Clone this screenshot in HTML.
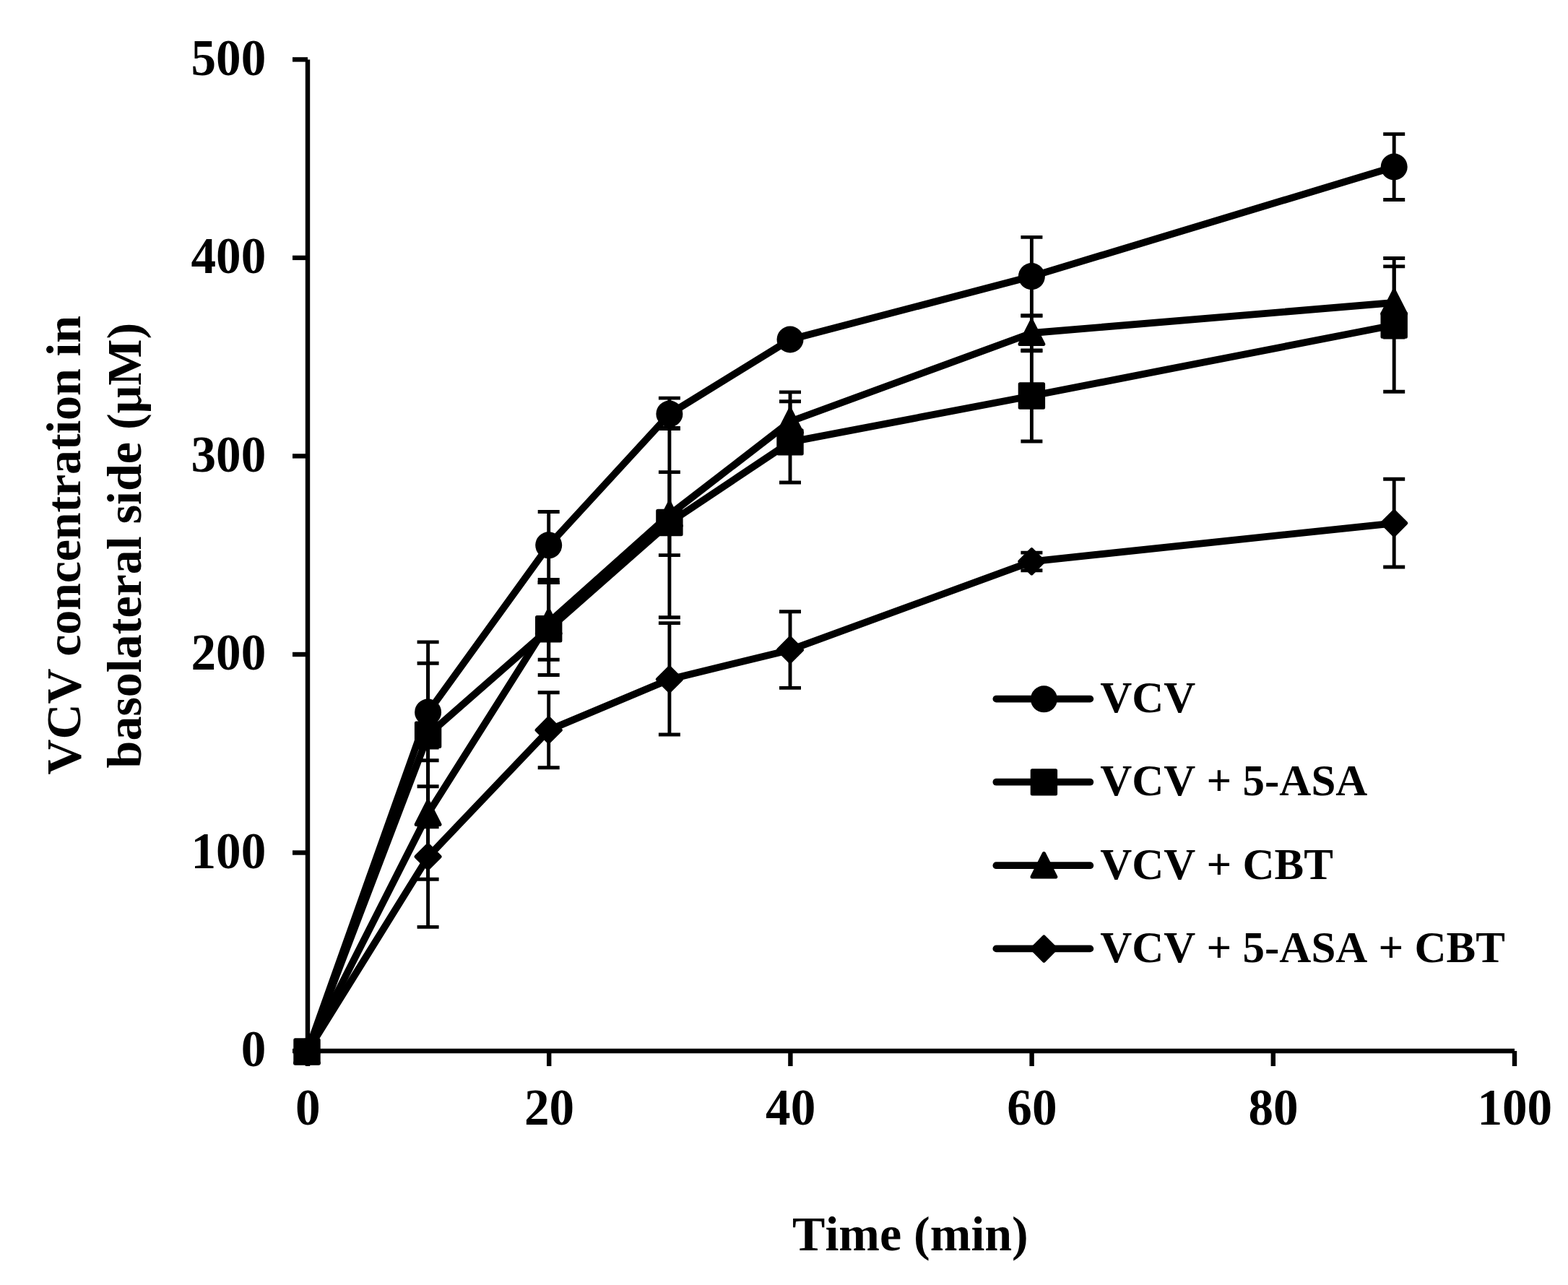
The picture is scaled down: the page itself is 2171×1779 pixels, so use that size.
<!DOCTYPE html>
<html lang="en">
<head>
<meta charset="utf-8">
<title>VCV concentration in basolateral side</title>
<style>
html,body{margin:0;padding:0;background:#fff;}
body{width:2171px;height:1779px;overflow:hidden;}
svg{display:block;}
text{font-family:"Liberation Serif",serif;font-weight:bold;fill:#000;font-kerning:none;font-variant-ligatures:none;}
.tick{font-size:69.2px;}
.title{font-size:68px;}
.leg{font-size:61px;}
.axis{stroke:#000;stroke-width:6.4;fill:none;}
.line{stroke:#000;stroke-width:9.8;fill:none;stroke-linejoin:round;stroke-linecap:round;}
.eb{stroke:#000;stroke-width:4.9;fill:none;}
.m{stroke:#000;stroke-width:3.0;stroke-linejoin:round;fill:#000;}
.m2{stroke:#000;stroke-width:5;stroke-linejoin:round;fill:#000;}
</style>
</head>
<body>
<svg width="2171" height="1779" viewBox="0 0 2171 1779">
<rect width="2171" height="1779" fill="#fff"/>
<g class="axis">
<path d="M426.0 82.4V1458.2"/>
<path d="M422.8 1455.0H2097.0"/>
<path d="M405.0 1455.0H426.0"/>
<path d="M405.0 1180.5H426.0"/>
<path d="M405.0 906.0H426.0"/>
<path d="M405.0 631.4H426.0"/>
<path d="M405.0 356.9H426.0"/>
<path d="M405.0 82.4H426.0"/>
<path d="M426.0 1455.0V1476.0"/>
<path d="M760.2 1455.0V1476.0"/>
<path d="M1094.4 1455.0V1476.0"/>
<path d="M1428.6 1455.0V1476.0"/>
<path d="M1762.8 1455.0V1476.0"/>
<path d="M2097.0 1455.0V1476.0"/>
</g>
<g class="tick" text-anchor="end">
<text transform="translate(368.3 1476.4) scale(1 1.045)">0</text>
<text transform="translate(368.3 1201.9) scale(1 1.045)">100</text>
<text transform="translate(368.3 927.4) scale(1 1.045)">200</text>
<text transform="translate(368.3 652.8) scale(1 1.045)">300</text>
<text transform="translate(368.3 378.3) scale(1 1.045)">400</text>
<text transform="translate(368.3 103.8) scale(1 1.045)">500</text>
</g>
<g class="tick" text-anchor="middle">
<text transform="translate(426.3 1556.9) scale(1 1.045)">0</text>
<text transform="translate(760.5 1556.9) scale(1 1.045)">20</text>
<text transform="translate(1094.7 1556.9) scale(1 1.045)">40</text>
<text transform="translate(1428.9 1556.9) scale(1 1.045)">60</text>
<text transform="translate(1763.1 1556.9) scale(1 1.045)">80</text>
<text transform="translate(2097.3 1556.9) scale(1 1.045)">100</text>
</g>
<text class="title" text-anchor="middle" transform="translate(1260.4 1731)">Time (min)</text>
<text class="title" text-anchor="middle" style="letter-spacing:-0.15px" transform="translate(110.9 754.8) rotate(-90)">VCV concentration in</text>
<text class="title" text-anchor="middle" transform="translate(194.6 755.2) rotate(-90)">basolateral side (μM)</text>
<g class="eb">
<path d="M592.6 918.2V1052.7M577.6 918.2h30.0M577.6 1052.7h30.0"/>
<path d="M759.7 708.5V802.4M744.7 708.5h30.0M744.7 802.4h30.0"/>
<path d="M926.9 551.1V593.6M911.9 551.1h30.0M911.9 593.6h30.0"/>
<path d="M1428.4 328.4V437.0M1413.4 328.4h30.0M1413.4 437.0h30.0"/>
<path d="M1930.2 185.6V276.5M1915.2 185.6h30.0M1915.2 276.5h30.0"/>
<path d="M592.6 888.9V1144.9M577.6 888.9h30.0M577.6 1144.9h30.0"/>
<path d="M759.7 806.6V934.5M744.7 806.6h30.0M744.7 934.5h30.0"/>
<path d="M926.9 592.4V854.8M911.9 592.4h30.0M911.9 854.8h30.0"/>
<path d="M1094.0 555.8V668.0M1079.0 555.8h30.0M1079.0 668.0h30.0"/>
<path d="M1428.4 485.7V611.0M1413.4 485.7h30.0M1413.4 611.0h30.0"/>
<path d="M1930.2 357.5V542.3M1915.2 357.5h30.0M1915.2 542.3h30.0"/>
<path d="M592.6 1035.0V1217.2M577.6 1035.0h30.0M577.6 1217.2h30.0"/>
<path d="M759.7 806.6V913.3M744.7 806.6h30.0M744.7 913.3h30.0"/>
<path d="M926.9 653.6V768.6M911.9 653.6h30.0M911.9 768.6h30.0"/>
<path d="M1094.0 542.9V622.0M1079.0 542.9h30.0M1079.0 622.0h30.0"/>
<path d="M1428.4 437.0V485.0M1413.4 437.0h30.0M1413.4 485.0h30.0"/>
<path d="M1930.2 368.9V467.0M1915.2 368.9h30.0M1915.2 467.0h30.0"/>
<path d="M592.6 1088.7V1283.4M577.6 1088.7h30.0M577.6 1283.4h30.0"/>
<path d="M759.7 958.8V1062.8M744.7 958.8h30.0M744.7 1062.8h30.0"/>
<path d="M926.9 862.6V1017.0M911.9 862.6h30.0M911.9 1017.0h30.0"/>
<path d="M1094.0 846.7V952.4M1079.0 846.7h30.0M1079.0 952.4h30.0"/>
<path d="M1428.4 765.1V789.7M1413.4 765.1h30.0M1413.4 789.7h30.0"/>
<path d="M1930.2 663.2V785.0M1915.2 663.2h30.0M1915.2 785.0h30.0"/>
</g>
<polyline class="line" points="426.0,1455.0 592.9,986.0 760.0,754.8 927.2,573.0 1094.3,470.0 1428.7,382.6 1930.5,231.0"/>
<polyline class="line" points="426.0,1455.0 592.9,1017.2 760.0,870.7 927.2,723.5 1094.3,611.9 1428.7,548.0 1930.5,450.0"/>
<polyline class="line" points="426.0,1455.0 592.9,1126.0 760.0,861.5 927.2,712.5 1094.3,583.5 1428.7,461.0 1930.5,419.0"/>
<polyline class="line" points="426.0,1455.0 592.9,1186.0 760.0,1010.7 927.2,940.5 1094.3,899.7 1428.7,777.3 1930.5,724.3"/>
<g>
<circle cx="425.0" cy="1456.0" r="18.5"/>
<circle cx="592.6" cy="986.0" r="18.5"/>
<circle cx="759.7" cy="754.8" r="18.5"/>
<circle cx="926.9" cy="573.0" r="18.5"/>
<circle cx="1094.0" cy="470.0" r="18.5"/>
<circle cx="1428.4" cy="382.6" r="18.5"/>
<circle cx="1930.2" cy="231.0" r="18.5"/>
</g>
<g>
<rect class="m2" x="408.8" y="1439.8" width="32.4" height="32.4"/>
<rect class="m2" x="576.4" y="1001.0" width="32.4" height="32.4"/>
<rect class="m2" x="743.5" y="854.5" width="32.4" height="32.4"/>
<rect class="m2" x="910.7" y="707.3" width="32.4" height="32.4"/>
<rect class="m2" x="1077.8" y="595.7" width="32.4" height="32.4"/>
<rect class="m2" x="1412.2" y="531.8" width="32.4" height="32.4"/>
<rect class="m2" x="1914.0" y="433.8" width="32.4" height="32.4"/>
</g>
<g>
<path class="m2" d="M425.0 1439.1L441.4 1471.5H408.6Z"/>
<path class="m2" d="M592.6 1109.1L609.0 1141.5H576.2Z"/>
<path class="m2" d="M759.7 844.6L776.1 877.0H743.3Z"/>
<path class="m2" d="M926.9 695.6L943.3 728.0H910.5Z"/>
<path class="m2" d="M1094.0 566.6L1110.4 599.0H1077.6Z"/>
<path class="m2" d="M1428.4 444.1L1444.8 476.5H1412.0Z"/>
<path class="m2" d="M1930.2 402.1L1946.6 434.5H1913.8Z"/>
</g>
<g>
<path class="m2" d="M425.0 1439.4L441.6 1456.0L425.0 1472.6L408.4 1456.0Z"/>
<path class="m2" d="M592.6 1169.4L609.2 1186.0L592.6 1202.6L576.0 1186.0Z"/>
<path class="m2" d="M759.7 994.1L776.3 1010.7L759.7 1027.3L743.1 1010.7Z"/>
<path class="m2" d="M926.9 923.9L943.5 940.5L926.9 957.1L910.3 940.5Z"/>
<path class="m2" d="M1094.0 883.1L1110.6 899.7L1094.0 916.3L1077.4 899.7Z"/>
<path class="m2" d="M1428.4 760.7L1445.0 777.3L1428.4 793.9L1411.8 777.3Z"/>
<path class="m2" d="M1930.2 707.7L1946.8 724.3L1930.2 740.9L1913.6 724.3Z"/>
</g>
<path class="line" d="M1379.4 967.6H1509.3"/>
<circle cx="1445.4" cy="967.8" r="18.5"/>
<text class="leg" transform="translate(1523.2 986.2) scale(1 1.015)">VCV</text>
<path class="line" d="M1379.4 1082.7H1509.3"/>
<rect class="m2" x="1429.2" y="1066.7" width="32.4" height="32.4"/>
<text class="leg" transform="translate(1523.2 1101.3) scale(1 1.015)">VCV + 5-ASA</text>
<path class="line" d="M1379.4 1198.2H1509.3"/>
<path class="m2" d="M1445.4 1181.5L1461.8 1213.9H1429.0Z"/>
<text class="leg" transform="translate(1523.2 1216.8) scale(1 1.015)">VCV + CBT</text>
<path class="line" d="M1379.4 1313.4H1509.3"/>
<path class="m2" d="M1445.4 1297.0L1462.0 1313.6L1445.4 1330.2L1428.8 1313.6Z"/>
<text class="leg" transform="translate(1523.2 1332.0) scale(1 1.015)">VCV + 5-ASA + CBT</text>
</svg>
</body>
</html>
